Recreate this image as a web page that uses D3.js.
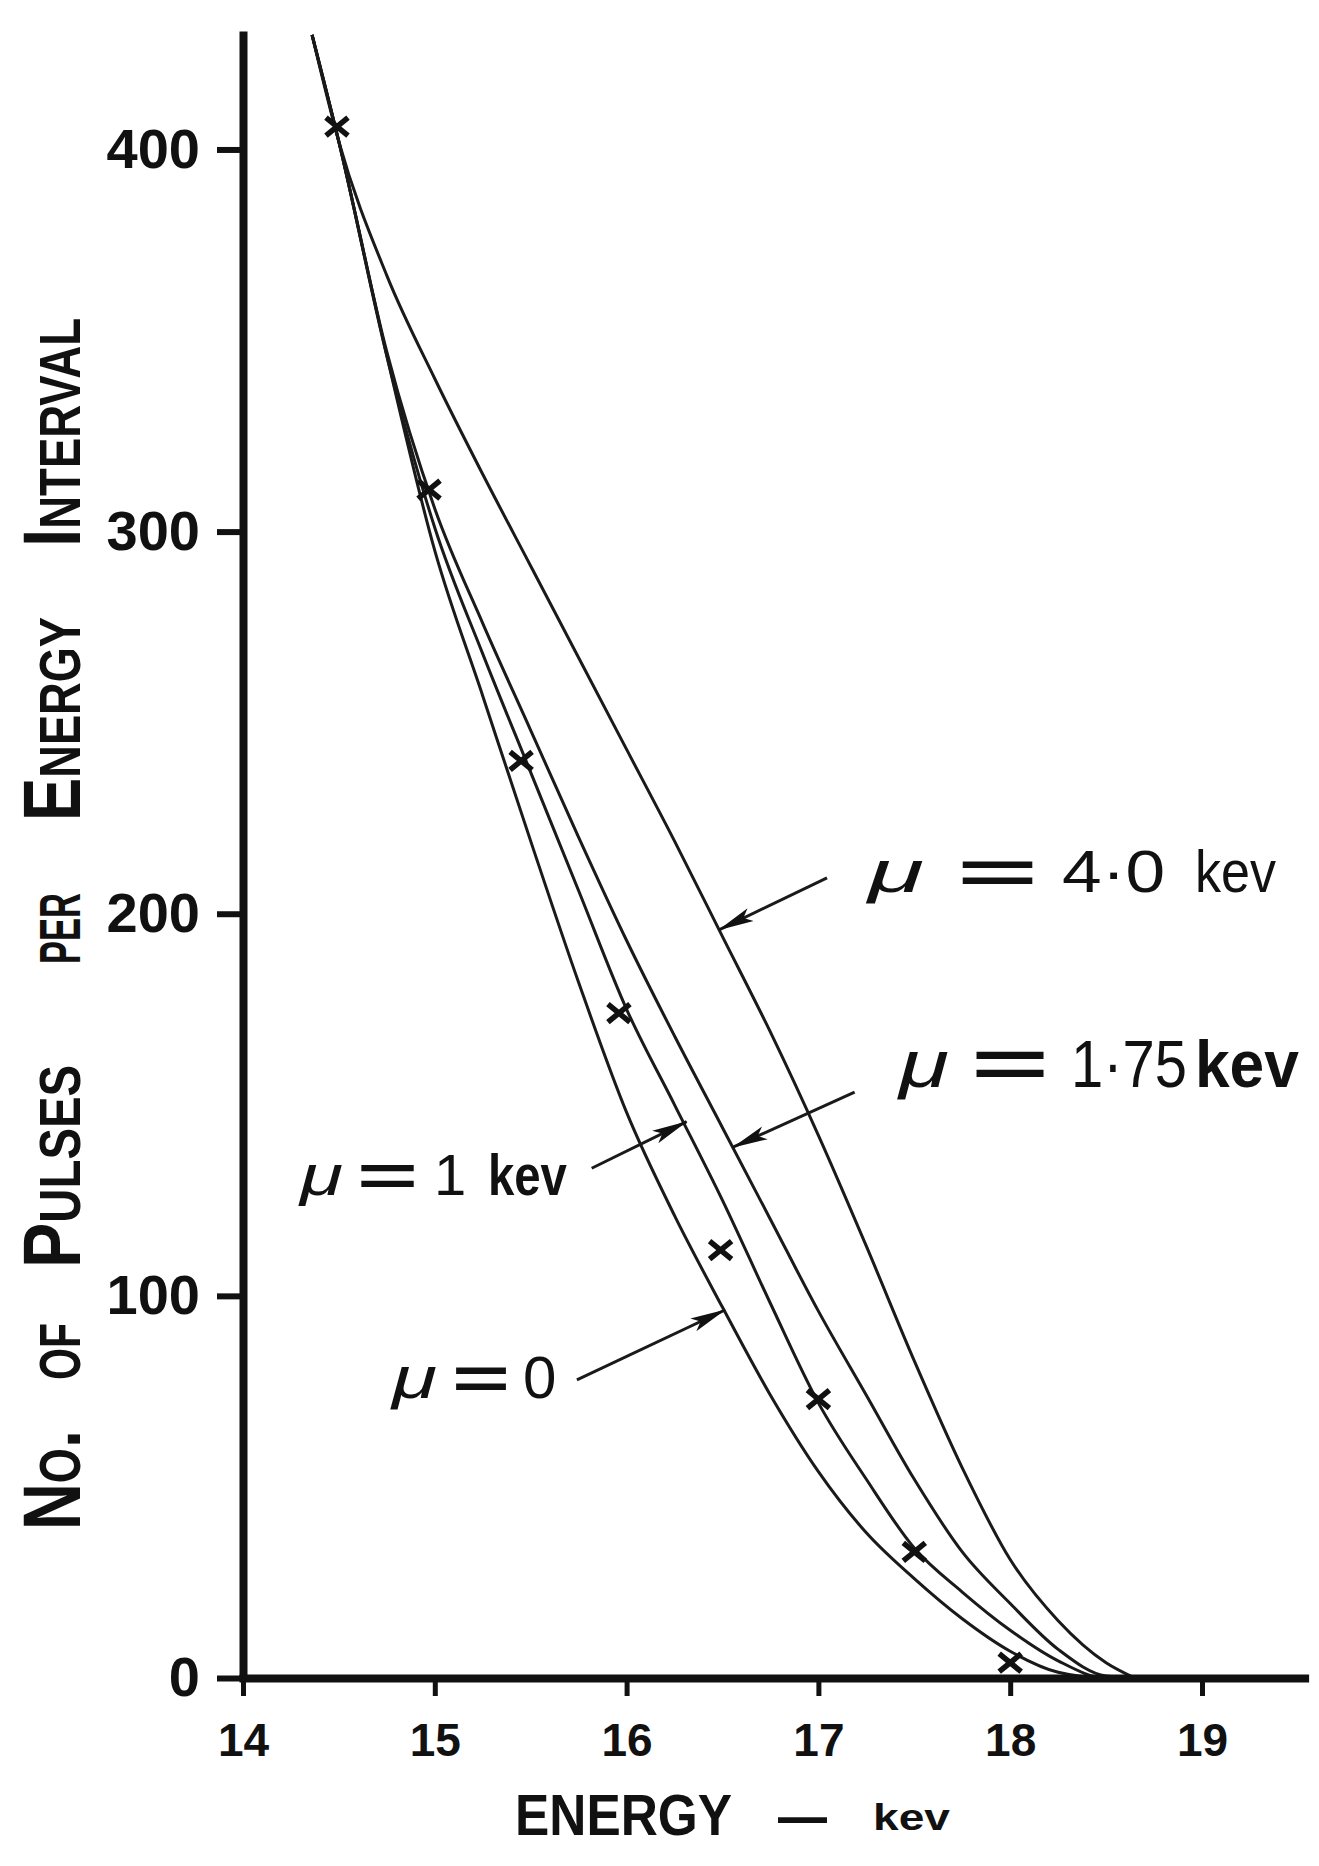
<!doctype html>
<html lang="en">
<head>
  <meta charset="utf-8">
  <title>No. of Pulses per Energy Interval</title>
<style>
html, body, svg {
    margin: 0;
    padding: 0;
    border: 0;
}
body { background: #fff; }
text { font-family: "Liberation Sans", Arial, sans-serif; fill: #111; }
</style>
</head>
<body>
<svg id="chart"></svg>
<script src="https://d3js.org/d3.v7.min.js"></script>
<script type="text/javascript">
    // energy grid (kev) and the four calculated curves
    var energy = [14.36, 14.5, 14.75, 15, 15.25, 15.5, 15.75, 16, 16.25, 16.5, 16.75, 17, 17.25, 17.5, 17.75, 18, 18.25, 18.5, 18.65];
    var mu0   = [430, 402, 346, 295, 257, 219, 182, 148, 121, 97, 74, 54, 38, 26, 15.5, 7, 1.5, 0, 0];
    var mu1   = [430, 402, 346, 301, 268, 237, 206, 175, 150, 125, 98, 72, 52, 34, 22.5, 12.5, 4.5, 0, 0];
    var mu175 = [430, 402, 347, 306, 276, 248, 220, 193, 168, 144, 120, 96, 74, 52, 33, 19.5, 7.5, 0.5, 0];
    var mu4   = [430, 402, 367, 340, 315, 291, 267, 243, 219, 194, 169, 142, 113, 83, 55, 31, 15, 4, 0];

    // measured points (crosses)
    var pointEnergy = [14.49, 14.97, 15.45, 15.96, 16.49, 17.0, 17.5, 18.0];
    var pointCount  = [406, 311, 240, 174, 112, 73, 33, 4];

    var xTicks = [14, 15, 16, 17, 18, 19];
    var yTicks = [0, 100, 200, 300, 400];

    var yTitleWords = ["No.", "of", "Pulses", "per", "Energy", "Interval"];
    var labelTexts = [
      ["\u03bc", "=", "4\u00b70", "kev"],
      ["\u03bc", "=", "1\u00b775", "kev"],
      ["\u03bc", "=", "1", "kev"],
      ["\u03bc", "=", "0"]
    ];

    var w = 1319, h = 1866;

    var svg = d3.select("#chart")
      .attr("width", w)
      .attr("height", h);

    svg.append("rect").attr("width", w).attr("height", h).attr("fill", "#fff");

    var x = d3.scaleLinear().domain([14, 19.535]).range([243, 1304.6]);
    var y = d3.scaleLinear().domain([0, 431]).range([1678, 31]);

    // arrow head
    svg.append("defs").append("marker")
      .attr("id", "head")
      .attr("viewBox", "0 0 36 16")
      .attr("refX", 35).attr("refY", 8)
      .attr("markerWidth", 36).attr("markerHeight", 16)
      .attr("markerUnits", "userSpaceOnUse")
      .attr("orient", "auto")
      .append("path")
      .attr("d", "M0,1L36,8L0,15L8,8Z")
      .attr("fill", "#111");

    // curves
    var line = d3.line()
      .x(function(d){ return x(d[0]); })
      .y(function(d){ return y(d[1]); })
      .curve(d3.curveMonotoneX);

    [mu0, mu1, mu175, mu4].forEach(function(s) {
      svg.append("path")
        .datum(energy.map(function(e, i){ return [e, s[i]]; }))
        .attr("d", line)
        .attr("fill", "none")
        .attr("stroke", "#1a1a1a")
        .attr("stroke-width", 3);
    });

    // crosses
    svg.selectAll(".pt")
      .data(pointEnergy.map(function(e, i){ return [e, pointCount[i]]; }))
      .enter()
      .append("path")
      .attr("class", "pt")
      .attr("transform", function(d){ return "translate(" + x(d[0]) + "," + y(d[1]) + ")"; })
      .attr("d", "M-11,-9L11,9M-11,9L11,-9")
      .attr("stroke", "#111")
      .attr("stroke-width", 5.5);

    // axes
    var gx = svg.append("g")
      .attr("transform", "translate(0," + y(0) + ")")
      .call(d3.axisBottom(x).tickValues(xTicks).tickFormat(d3.format("d"))
        .tickSize(18).tickSizeOuter(0).tickPadding(27));
    gx.attr("font-size", null).attr("font-family", null);
    gx.select(".domain").attr("stroke", "#111").attr("stroke-width", 8).attr("stroke-linecap", "square");
    gx.selectAll(".tick line").attr("stroke", "#111").attr("stroke-width", 5);
    gx.selectAll(".tick text").attr("font-size", 46).attr("font-weight", "bold").attr("fill", "#111");

    var gy = svg.append("g")
      .attr("transform", "translate(" + x(14) + ",0)")
      .call(d3.axisLeft(y).tickValues(yTicks).tickSize(26).tickSizeOuter(0).tickPadding(17));
    gy.attr("font-size", null).attr("font-family", null);
    gy.select(".domain").attr("stroke", "#111").attr("stroke-width", 8);
    gy.selectAll(".tick line").attr("stroke", "#111").attr("stroke-width", 6);
    gy.selectAll(".tick text").attr("font-size", 56).attr("font-weight", "bold").attr("fill", "#111");

    // y title, one word at a time: [bottom y, length]
    var wordPos = [[1530, 100], [1380, 57], [1268, 203], [964, 71], [821, 204], [547, 229]];
    yTitleWords.forEach(function(word, i) {
      svg.append("text")
        .attr("transform", "translate(80," + wordPos[i][0] + ") rotate(-90)")
        .attr("font-size", 82)
        .attr("font-weight", "bold")
        .style("font-variant", "small-caps")
        .attr("textLength", wordPos[i][1])
        .attr("lengthAdjust", "spacingAndGlyphs")
        .text(word);
    });

    // x title
    var xt = [["ENERGY", 515, 1835, 58, 217], ["\u2014", 778, 1836, 58, 49], ["kev", 873, 1830, 36, 77]];
    xt.forEach(function(p) {
      svg.append("text")
        .attr("x", p[1]).attr("y", p[2])
        .attr("font-size", p[3])
        .attr("font-weight", "bold")
        .attr("textLength", p[4])
        .attr("lengthAdjust", "spacingAndGlyphs")
        .text(p[0]);
    });

    // curve labels with arrows (anchors in data units, part offsets in px)
    var labelLayout = [
      { at: [17.259, 205.8], from: [17.045, 209.4], to: [16.482, 195.8], size: 60, boldKev: false,
        parts: [[0, 56], [89, 81], [194, 103], [327, 81]] },
      { at: [17.42, 154.7], from: [17.189, 153.3], to: [16.555, 138.9], size: 66, boldKev: true,
        parts: [[0, 50], [72, 78], [172, 116], [296, 104]] },
      { at: [14.297, 126.4], from: [15.818, 133.4], to: [16.313, 145.6], size: 58, boldKev: true,
        parts: [[0, 43], [57, 61], [134, 0], [188, 79]] },
      { at: [14.777, 73.3], from: [15.741, 78.0], to: [16.513, 96.3], size: 60, boldKev: true,
        parts: [[0, 45], [60, 58], [131, 0]] }
    ];

    labelLayout.forEach(function(L, i) {
      svg.append("line")
        .attr("x1", x(L.from[0])).attr("y1", y(L.from[1]))
        .attr("x2", x(L.to[0])).attr("y2", y(L.to[1]))
        .attr("stroke", "#1a1a1a")
        .attr("stroke-width", 3)
        .attr("marker-end", "url(#head)");

      var x0 = x(L.at[0]), y0 = y(L.at[1]);
      labelTexts[i].forEach(function(t, j) {
        var p = L.parts[j];
        var tx = svg.append("text")
          .attr("x", x0 + p[0]).attr("y", y0)
          .attr("font-size", L.size)
          .text(t);
        if (j === 0) tx.attr("font-style", "italic");
        if (j === 1) tx.attr("font-weight", "bold");
        if (j === 3 && L.boldKev) tx.attr("font-weight", "bold");
        if (p[1] > 0) tx.attr("textLength", p[1]).attr("lengthAdjust", "spacingAndGlyphs");
      });
    });
</script>
</body>
</html>
